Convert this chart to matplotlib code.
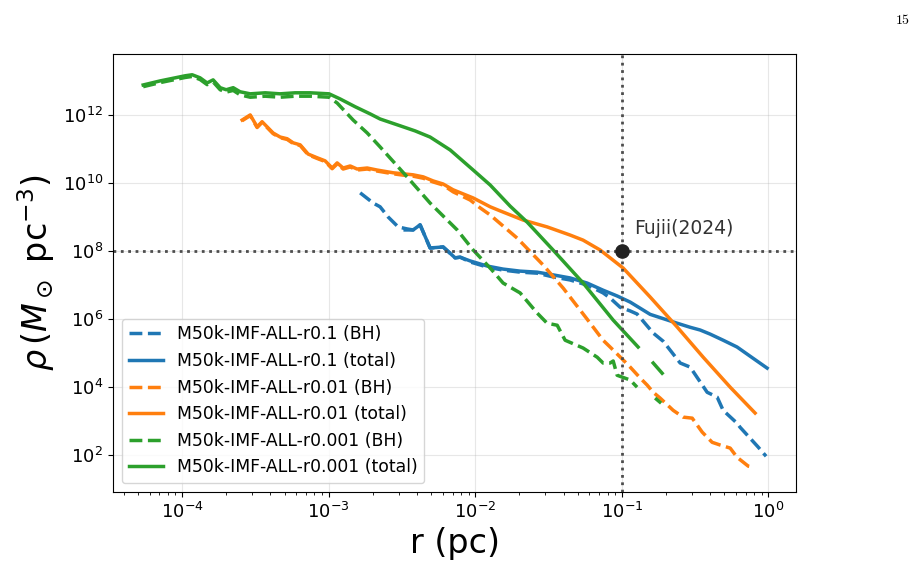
import numpy as np
import matplotlib
matplotlib.use("Agg")
import matplotlib.pyplot as plt

#######################################################
# density profiles, stored as log10 values
# (nan = empty bin, line is broken there)
#######################################################
NAN = np.nan

# M50k-IMF-ALL-r0.1
log_r_bh_01 = [-2.785, -2.696, -2.649, -2.594, -2.526, -2.465, -2.424, -2.376, -2.308, -2.219,
               -2.137, -2.103, -2.035, -1.919, -1.810, -1.694, -1.578, -1.469, -1.353, -1.237,
               -1.128, -1.080, -1.012, -0.943, -0.896, -0.786, -0.718, -0.602, -0.534, -0.418,
               -0.350, -0.309, -0.214, -0.193, -0.125, -0.070, -0.016]
log_rho_bh_01 = [9.70, 9.40, 9.29, 8.99, 8.70, 8.64, 8.61, 8.76, 8.08, 8.11,
                 7.79, 7.81, 7.67, 7.52, 7.43, 7.37, 7.34, 7.23, 7.14, 6.99,
                 6.76, 6.61, 6.34, 6.23, 6.14, 5.58, 5.34, 4.70, 4.58, 3.84,
                 3.70, 3.31, 2.93, 2.81, 2.49, 2.23, 1.96]
log_r_tot_01 = [-2.478, -2.424, -2.376, -2.308, -2.219, -2.137, -2.103, -2.035, -1.919, -1.810,
                -1.694, -1.578, -1.469, -1.353, -1.237, -1.128, -1.032, -0.943, -0.807, -0.623,
                -0.534, -0.466, -0.398, -0.309, -0.214, -0.125, -0.009]
log_rho_tot_01 = [8.61, 8.61, 8.76, 8.08, 8.11, 7.79, 7.81, 7.70, 7.55, 7.46,
                  7.40, 7.37, 7.29, 7.20, 7.05, 6.84, 6.67, 6.49, 6.13, 5.87,
                  5.75, 5.67, 5.55, 5.37, 5.17, 4.90, 4.55]

# M50k-IMF-ALL-r0.01
log_r_tot_001 = [-3.590, -3.535, -3.488, -3.454, -3.379, -3.331, -3.283, -3.242, -3.194, -3.140,
                 -3.078, -3.024, -2.976, -2.942, -2.901, -2.853, -2.806, -2.737, -2.669, -2.628,
                 -2.560, -2.492, -2.424, -2.355, -2.287, -2.219, -2.151, -2.083, -2.014, -1.898,
                 -1.830, -1.673, -1.510, -1.353, -1.264, -1.148, -0.991, -0.807, -0.623, -0.445,
                 -0.261, -0.091]
log_rho_tot_001 = [11.84, 11.99, 11.64, 11.79, 11.46, 11.34, 11.29, 11.17, 11.11, 10.84,
                   10.73, 10.64, 10.43, 10.58, 10.43, 10.49, 10.40, 10.43, 10.37, 10.34,
                   10.29, 10.26, 10.23, 10.17, 10.05, 9.96, 9.79, 9.67, 9.55, 9.29,
                   9.17, 8.90, 8.70, 8.46, 8.31, 8.02, 7.49, 6.64, 5.76, 4.87,
                   3.99, 3.23]
log_r_bh_001 = [-3.590, -3.535, -3.488, -3.454, -3.379, -3.331, -3.283, -3.242, -3.194, -3.140,
                -3.078, -3.024, -2.976, -2.942, -2.901, -2.853, -2.806, -2.737, -2.669, -2.628,
                -2.560, -2.492, -2.424, -2.355, -2.287, -2.219, -2.151, -2.035, -1.967, -1.898,
                -1.714, -1.537, -1.400, -1.237, -1.128, -1.080, -0.991, -0.943, -0.875, -0.827,
                -0.786, -0.739, -0.650, -0.582, -0.520, -0.452, -0.384, -0.329, -0.261, -0.214,
                -0.173, -0.138, -0.104]
log_rho_bh_001 = [11.82, 11.97, 11.62, 11.77, 11.44, 11.32, 11.27, 11.15, 11.09, 10.82,
                  10.71, 10.62, 10.41, 10.55, 10.40, 10.46, 10.37, 10.40, 10.34, 10.31,
                  10.26, 10.22, 10.19, 10.13, 10.02, 9.93, 9.73, 9.49, 9.26, 9.05,
                  8.37, 7.58, 6.90, 5.99, 5.37, 5.17, 4.79, 4.58, 4.26, 4.05,
                  3.84, 3.67, 3.31, 3.11, 3.08, 2.67, 2.37, 2.29, 2.20, 1.93,
                  1.79, 1.67, 1.64]

# M50k-IMF-ALL-r0.001
log_r_tot_0001 = [-4.265, -4.149, -4.047, -3.979, -3.931, -3.877, -3.829, -3.788, -3.740, -3.699,
                  -3.651, -3.604, -3.535, -3.433, -3.331, -3.229, -3.126, -2.997, -2.922, -2.819,
                  -2.717, -2.649, -2.512, -2.410, -2.308, -2.171, -2.014, -1.898, -1.762, -1.646,
                  -1.469, -1.264, -1.059, -0.889, NAN, -0.786, -0.725]
log_rho_tot_0001 = [12.87, 12.99, 13.08, 13.14, 13.17, 13.08, 12.93, 13.02, 12.79, 12.73,
                    12.79, 12.67, 12.61, 12.64, 12.61, 12.64, 12.64, 12.61, 12.46, 12.23,
                    12.02, 11.87, 11.67, 11.52, 11.34, 10.96, 10.37, 9.93, 9.31, 8.84,
                    8.02, 7.05, 5.96, 5.17, NAN, 4.70, 4.40]
log_r_bh_0001 = [-4.265, -4.149, -4.047, -3.979, -3.931, -3.877, -3.829, -3.788, -3.740, -3.699,
                 -3.651, -3.604, -3.535, -3.433, -3.331, -3.229, -3.126, -2.997, -2.942, -2.833,
                 -2.737, -2.649, -2.465, -2.308, -2.123, -2.014, -1.898, -1.810, -1.762, -1.694,
                 -1.578, -1.510, -1.441, -1.387, -1.264, -1.168, -1.128, -1.080, -1.059, -1.032,
                 -0.943, -0.896, NAN, -0.773, -0.732]
log_rho_bh_0001 = [12.82, 12.94, 13.03, 13.09, 13.12, 13.03, 12.88, 12.96, 12.73, 12.66,
                   12.71, 12.58, 12.51, 12.54, 12.51, 12.54, 12.54, 12.51, 12.34, 11.84,
                   11.46, 11.05, 10.17, 9.40, 8.61, 8.02, 7.49, 7.05, 6.93, 6.76,
                   6.17, 5.87, 5.81, 5.37, 5.14, 4.87, 4.70, 4.70, 4.76, 4.34,
                   4.20, 3.99, NAN, 3.67, 3.52]

LABELS = ["M50k-IMF-ALL-r0.1", "M50k-IMF-ALL-r0.01", "M50k-IMF-ALL-r0.001"]
COLORS = ["#1f77b4", "#ff7f0e", "#2ca02c"]

# reference point
FUJII_R = 0.1
FUJII_RHO = 1e8
FUJII_LABEL = "Fujii(2024)"


def to_lin(a):
    return 10 ** np.asarray(a, dtype=float)


profiles = [
    (log_r_bh_01, log_rho_bh_01, log_r_tot_01, log_rho_tot_01),
    (log_r_bh_001, log_rho_bh_001, log_r_tot_001, log_rho_tot_001),
    (log_r_bh_0001, log_rho_bh_0001, log_r_tot_0001, log_rho_tot_0001),
]

fig = plt.figure(figsize=(9.18, 5.74), dpi=100)
ax = fig.add_axes([113 / 918, 1 - 492 / 574, (796 - 113) / 918, (492 - 54) / 574])

for (rb, db, rt, dt), label, color in zip(profiles, LABELS, COLORS):
    ax.plot(to_lin(rb), to_lin(db), ls="--", lw=2.5, color=color, label=f"{label} (BH)")
    ax.plot(to_lin(rt), to_lin(dt), ls="-", lw=2.5, color=color, label=f"{label} (total)")

ax.axhline(FUJII_RHO, color="0.3", ls=":", lw=2)
ax.axvline(FUJII_R, color="0.3", ls=":", lw=2)
ax.plot([FUJII_R], [FUJII_RHO], "o", color="#222222", ms=9.5, zorder=5)
ax.annotate(FUJII_LABEL, (FUJII_R, FUJII_RHO), xytext=(9, 12), textcoords="offset points",
            fontsize=13.5, color="#333333")

ax.set_xscale("log")
ax.set_yscale("log")
ax.set_xlim(10 ** -4.471, 10 ** 0.188)
ax.set_ylim(10 ** 0.91, 10 ** 13.78)
ax.set_yticks([1e2, 1e4, 1e6, 1e8, 1e10, 1e12])
ax.yaxis.set_minor_locator(matplotlib.ticker.NullLocator())
ax.tick_params(labelsize=13)
ax.grid(True, alpha=0.3)

ax.set_xlabel("r (pc)", fontsize=24)
ax.set_ylabel(r"$\rho\,(M_\odot\ \mathrm{pc}^{-3})$", fontsize=24)
ax.legend(loc="lower left", fontsize=12.4)

fig.text(0.992, 0.965, r"$15$", math_fontfamily="cm", fontsize=10, ha="right", va="center")

fig.savefig("out.png", dpi=100)
